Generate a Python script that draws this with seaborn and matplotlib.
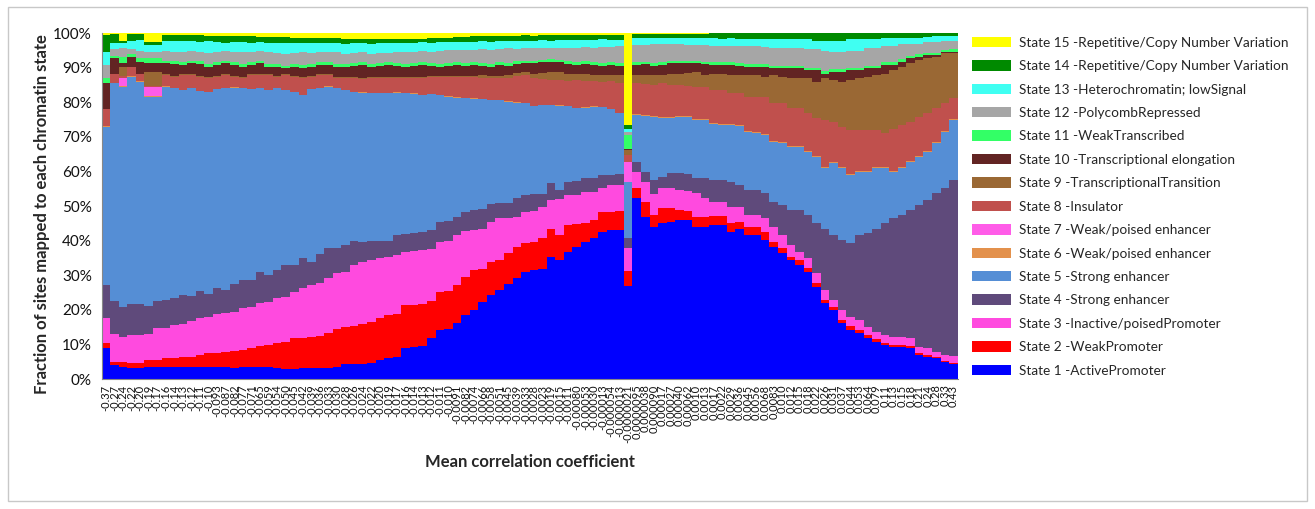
import numpy as np
import pandas as pd
import matplotlib
matplotlib.use("Agg")
import matplotlib.pyplot as plt
from matplotlib.patches import Patch, Rectangle
import seaborn as sns

# Bin labels (mean correlation coefficient of each bin)
corr_labels = [
    "-0.37", "-0.27", "-0.24", "-0.22", "-0.20", "-0.19", "-0.17", "-0.16", "-0.14", "-0.13",
    "-0.12", "-0.11", "-0.10", "-0.093", "-0.087", "-0.082", "-0.077", "-0.071", "-0.065", "-0.059",
    "-0.054", "-0.050", "-0.045", "-0.042", "-0.039", "-0.036", "-0.033", "-0.030", "-0.028", "-0.026",
    "-0.024", "-0.022", "-0.020", "-0.019", "-0.017", "-0.016", "-0.014", "-0.013", "-0.012", "-0.011",
    "-0.010", "-0.0091", "-0.0082", "-0.0074", "-0.0066", "-0.0058", "-0.0051", "-0.0045", "-0.0039", "-0.0033",
    "-0.0028", "-0.0023", "-0.0019", "-0.0015", "-0.0011", "-0.00080", "-0.00053", "-0.00030", "-0.00013", "-0.000054",
    "-0.000013", "-0.0000021", "0.0000095", "0.000038", "0.000090", "0.00017", "0.00027", "0.00040", "0.00062", "0.0010",
    "0.0013", "0.0017", "0.0022", "0.0029", "0.0036", "0.0045", "0.0056", "0.0068", "0.0083", "0.010",
    "0.012", "0.015", "0.018", "0.022", "0.026", "0.031", "0.037", "0.044", "0.053", "0.064",
    "0.079", "0.11", "0.13", "0.15", "0.18", "0.21", "0.24", "0.28", "0.33", "0.43",
]

state_names = [
    "State 1 -ActivePromoter",
    "State 2 -WeakPromoter",
    "State 3 -Inactive/poisedPromoter",
    "State 4 -Strong enhancer",
    "State 5 -Strong enhancer",
    "State 6 -Weak/poised enhancer",
    "State 7 -Weak/poised enhancer",
    "State 8 -Insulator",
    "State 9 -TranscriptionalTransition",
    "State 10 -Transcriptional elongation",
    "State 11 -WeakTranscribed",
    "State 12 -PolycombRepressed",
    "State 13 -Heterochromatin; lowSignal",
    "State 14 -Repetitive/Copy Number Variation",
    "State 15 -Repetitive/Copy Number Variation",
]

state_colors = [
    "#0000FF", "#FF0000", "#FF4ADF", "#5F4A7B", "#558ED5",
    "#E3914C", "#FF5CE8", "#C0504D", "#9A6834", "#622423",
    "#33FF66", "#A6A6A6", "#40FFF2", "#008A00", "#FFFF00",
]

# Upper edge (cumulative %) of each state's band in every bin; State 15 fills to 100 %
edge_s1 = [
    8.9, 4.0, 3.6, 3.3, 3.3, 3.5, 3.6, 3.5, 3.5, 3.6, 3.6, 3.5, 3.4, 3.5, 3.4, 3.3, 3.4, 3.5, 3.6, 3.5,
    3.3, 3.0, 3.0, 3.3, 3.3, 3.2, 3.3, 3.4, 4.2, 4.2, 4.3, 4.5, 5.5, 6.0, 6.5, 9.0, 9.2, 9.5, 11.8, 14.2,
    14.5, 16.1, 18.5, 20.0, 22.4, 24.3, 25.7, 27.6, 29.1, 31.0, 31.5, 31.8, 35.4, 34.4, 36.8, 38.2, 39.7, 40.7, 42.6, 43.1,
    43.0, 26.9, 52.2, 46.9, 44.0, 45.0, 45.5, 46.0, 46.0, 44.0, 44.0, 44.5, 44.5, 42.6, 43.5, 41.6, 41.6, 40.2, 38.2, 36.3,
    34.4, 32.9, 31.0, 26.7, 21.9, 19.9, 16.1, 14.2, 13.2, 11.8, 10.8, 9.8, 9.3, 9.3, 8.9, 6.9, 6.5, 6.0, 5.0, 4.3,
]
edge_s2 = [
    10.3, 5.0, 5.0, 4.5, 4.5, 5.5, 5.5, 6.0, 6.0, 6.5, 6.5, 7.0, 7.4, 7.4, 7.9, 8.0, 8.5, 8.9, 9.5, 9.8,
    10.4, 10.8, 11.8, 11.8, 12.0, 12.5, 13.2, 14.5, 15.0, 15.3, 16.0, 16.5, 17.5, 18.5, 18.8, 21.4, 21.4, 21.8, 22.5, 25.2,
    25.5, 27.2, 29.6, 31.5, 31.8, 33.9, 34.4, 36.3, 38.2, 39.2, 39.5, 40.7, 43.5, 41.6, 44.5, 44.8, 45.0, 46.0, 48.4, 48.4,
    48.5, 31.3, 55.1, 51.3, 47.5, 49.3, 49.3, 48.9, 48.5, 46.9, 46.9, 47.2, 47.2, 45.0, 45.5, 43.8, 43.8, 42.5, 39.7, 37.8,
    35.4, 34.3, 32.0, 27.7, 22.9, 20.9, 17.1, 15.2, 14.1, 12.7, 11.6, 10.4, 9.8, 9.8, 9.4, 7.4, 6.9, 6.5, 5.3, 4.6,
]
edge_s3 = [
    17.5, 12.9, 12.2, 12.7, 12.7, 12.9, 14.6, 14.8, 15.6, 16.0, 16.8, 17.5, 18.0, 18.7, 19.0, 19.5, 20.4, 20.9, 21.9, 22.4,
    23.3, 23.8, 25.2, 26.2, 27.2, 27.7, 29.1, 30.5, 31.0, 32.9, 33.9, 34.4, 34.9, 35.4, 35.8, 36.8, 37.0, 37.2, 37.5, 39.7,
    39.9, 41.6, 42.8, 43.0, 43.3, 45.5, 46.4, 46.4, 46.9, 48.4, 48.6, 49.8, 51.7, 51.9, 53.2, 53.2, 54.1, 54.1, 55.1, 56.1,
    56.1, 38.0, 59.9, 57.0, 53.5, 55.1, 55.1, 54.5, 54.3, 53.7, 52.2, 51.3, 51.3, 49.8, 49.8, 47.4, 47.4, 46.4, 44.0, 41.6,
    38.7, 36.8, 34.9, 30.5, 25.7, 22.8, 19.9, 18.0, 17.1, 15.1, 13.7, 12.7, 12.2, 12.2, 11.8, 9.3, 8.9, 7.9, 6.9, 6.6,
]
edge_s4 = [
    27.2, 22.5, 20.9, 21.6, 21.6, 21.2, 22.5, 22.8, 23.5, 24.3, 24.0, 25.4, 24.5, 26.4, 25.8, 27.6, 28.6, 28.6, 31.0, 30.0,
    31.5, 32.9, 32.9, 35.1, 33.8, 36.0, 37.8, 37.8, 38.7, 39.9, 39.7, 39.9, 39.9, 39.9, 41.5, 42.0, 42.2, 42.5, 43.0, 45.5,
    45.8, 46.9, 48.4, 48.8, 49.0, 50.5, 50.8, 51.0, 52.2, 53.2, 53.5, 53.5, 56.6, 54.6, 57.0, 57.2, 58.0, 58.2, 59.0, 59.0,
    59.2, 40.9, 62.8, 59.9, 57.5, 58.5, 59.4, 59.4, 59.2, 58.0, 58.0, 57.5, 57.5, 57.0, 56.1, 54.6, 54.6, 53.7, 51.3, 50.3,
    48.8, 48.8, 47.4, 45.0, 43.5, 41.6, 40.2, 39.2, 41.6, 42.1, 43.5, 45.0, 46.4, 47.4, 48.8, 50.3, 51.7, 53.7, 55.1, 57.5,
]
edge_s5 = [
    72.9, 85.5, 84.5, 87.4, 85.9, 81.6, 81.6, 84.5, 84.0, 83.5, 84.0, 83.2, 83.0, 83.7, 84.0, 84.2, 84.0, 83.7, 84.0, 83.5,
    84.0, 83.5, 83.0, 82.1, 83.7, 84.0, 84.5, 84.0, 83.5, 83.0, 82.8, 82.6, 82.6, 82.6, 82.8, 82.6, 82.5, 82.1, 82.3, 82.0,
    81.6, 81.3, 81.1, 81.0, 80.8, 80.6, 80.6, 80.2, 79.9, 79.7, 78.8, 79.2, 79.2, 79.0, 78.8, 78.2, 78.4, 78.7, 78.5, 78.0,
    76.8, 56.9, 76.3, 76.0, 75.8, 75.3, 75.5, 75.8, 75.8, 74.9, 74.9, 73.6, 73.4, 73.4, 73.0, 71.5, 71.0, 70.5, 68.5, 68.1,
    67.1, 67.1, 65.5, 64.3, 60.9, 62.3, 60.9, 59.0, 59.9, 59.9, 60.9, 60.9, 59.9, 60.9, 62.8, 64.3, 65.7, 68.1, 71.5, 74.9,
]
edge_s6 = [
    73.0, 85.6, 84.6, 87.5, 86.0, 81.7, 81.7, 84.6, 84.1, 83.6, 84.1, 83.3, 83.1, 83.8, 84.1, 84.3, 84.1, 83.8, 84.1, 83.6,
    84.1, 83.6, 83.1, 82.2, 83.8, 84.1, 84.6, 84.1, 83.6, 83.1, 82.9, 82.7, 82.7, 82.7, 82.9, 82.7, 82.6, 82.2, 82.4, 82.1,
    81.7, 81.4, 81.2, 81.1, 80.9, 80.7, 80.7, 80.3, 80.0, 79.8, 78.9, 79.3, 79.3, 79.1, 78.9, 78.3, 78.5, 78.8, 78.6, 78.1,
    76.9, 56.9, 76.6, 76.3, 76.1, 75.6, 75.8, 76.1, 76.1, 75.2, 75.2, 73.9, 73.7, 73.7, 73.3, 71.8, 71.3, 70.8, 68.8, 68.4,
    67.4, 67.4, 65.8, 64.6, 61.2, 62.6, 61.2, 59.3, 60.2, 60.2, 61.2, 61.2, 60.2, 61.2, 63.1, 64.6, 66.0, 68.4, 71.8, 75.2,
]
edge_s7 = [
    73.0, 85.6, 86.9, 87.5, 86.0, 84.5, 84.5, 84.6, 84.1, 83.6, 84.1, 83.3, 83.1, 83.8, 84.1, 84.3, 84.1, 83.8, 84.1, 83.6,
    84.1, 83.6, 83.1, 82.2, 83.8, 84.1, 84.6, 84.1, 83.6, 83.1, 82.9, 82.7, 82.7, 82.7, 82.9, 82.7, 82.6, 82.2, 82.4, 82.1,
    81.7, 81.4, 81.2, 81.1, 80.9, 80.7, 80.7, 80.3, 80.0, 79.8, 78.9, 79.3, 79.3, 79.1, 78.9, 78.3, 78.5, 78.8, 78.6, 78.1,
    76.9, 62.7, 76.6, 76.3, 76.1, 75.6, 75.8, 76.1, 76.1, 75.2, 75.2, 73.9, 73.7, 73.7, 73.3, 71.8, 71.3, 70.8, 68.8, 68.4,
    67.4, 67.4, 65.8, 64.6, 61.2, 62.6, 61.2, 59.3, 60.2, 60.2, 61.2, 61.2, 60.2, 61.2, 63.1, 64.6, 66.0, 68.4, 71.8, 75.2,
]
edge_s8 = [
    78.0, 88.3, 87.5, 90.3, 88.3, 84.8, 84.8, 87.9, 87.4, 87.9, 87.9, 87.4, 87.1, 87.4, 87.9, 87.4, 86.9, 87.9, 87.9, 87.9,
    87.4, 87.9, 87.4, 86.9, 87.4, 87.9, 87.9, 87.1, 86.9, 86.9, 86.7, 86.9, 86.9, 86.9, 87.0, 86.9, 87.0, 87.1, 87.2, 87.2,
    87.4, 87.4, 87.4, 87.3, 87.0, 86.9, 86.9, 87.1, 87.6, 87.9, 86.9, 86.6, 86.4, 86.4, 86.0, 86.4, 86.2, 86.0, 85.8, 86.0,
    85.5, 64.7, 85.5, 85.3, 85.0, 85.5, 85.0, 85.0, 84.8, 84.5, 84.5, 83.5, 83.5, 82.6, 82.6, 81.6, 81.6, 81.6, 79.7, 79.7,
    78.2, 78.2, 76.8, 75.3, 74.9, 74.4, 72.9, 72.0, 72.0, 72.0, 72.0, 71.0, 72.4, 73.4, 74.4, 75.8, 76.8, 78.2, 79.7, 81.1,
]
edge_s9 = [
    78.0, 88.3, 90.3, 90.3, 88.3, 88.8, 88.8, 88.2, 87.7, 88.2, 88.2, 87.7, 87.4, 87.7, 88.2, 87.7, 87.2, 88.2, 88.2, 88.2,
    87.7, 88.2, 87.7, 87.2, 87.7, 88.2, 88.2, 87.4, 87.2, 87.2, 87.0, 87.2, 87.2, 87.2, 87.3, 87.2, 87.3, 87.4, 87.5, 87.5,
    87.7, 87.7, 87.7, 87.6, 87.8, 87.7, 87.7, 87.9, 88.4, 88.7, 88.3, 88.5, 88.8, 88.8, 88.3, 88.3, 88.3, 88.0, 88.0, 88.0,
    87.9, 66.1, 87.9, 87.9, 87.9, 87.9, 88.3, 88.3, 88.5, 88.8, 87.9, 88.3, 88.3, 87.9, 87.9, 87.9, 87.9, 87.4, 87.9, 87.4,
    86.9, 86.9, 86.9, 85.9, 86.9, 86.4, 85.9, 86.4, 86.9, 87.4, 87.9, 88.3, 89.3, 90.3, 91.2, 92.2, 92.7, 93.2, 94.1, 94.1,
]
edge_s10 = [
    85.5, 92.7, 91.2, 93.2, 91.7, 91.2, 91.2, 91.2, 91.0, 90.8, 91.2, 91.0, 90.3, 90.8, 91.2, 90.8, 90.3, 90.8, 91.2, 90.3,
    90.3, 89.8, 90.3, 90.0, 90.3, 90.8, 90.8, 90.3, 90.3, 90.6, 90.8, 90.3, 90.5, 90.8, 90.6, 90.3, 90.5, 90.8, 90.5, 90.3,
    90.6, 90.8, 90.5, 90.8, 90.6, 90.3, 90.8, 90.6, 91.0, 91.2, 91.2, 91.5, 91.7, 91.5, 91.0, 90.8, 91.0, 90.8, 90.6, 90.8,
    90.6, 66.6, 90.8, 91.0, 90.6, 90.8, 91.2, 91.2, 91.2, 91.2, 91.0, 90.8, 90.8, 90.8, 90.6, 90.3, 90.3, 90.3, 89.8, 89.8,
    89.8, 89.8, 89.3, 89.3, 88.3, 88.8, 88.8, 89.3, 89.3, 89.8, 89.8, 90.8, 90.8, 91.7, 92.7, 93.2, 93.6, 93.6, 94.4, 94.6,
]
edge_s11 = [
    86.9, 93.4, 93.2, 94.0, 92.7, 92.7, 92.7, 92.0, 91.8, 91.6, 92.0, 91.8, 91.1, 91.6, 92.0, 91.6, 91.1, 91.6, 92.0, 91.1,
    91.1, 90.6, 91.1, 90.8, 91.1, 91.6, 91.6, 91.1, 91.1, 91.4, 91.6, 91.1, 91.3, 91.6, 91.4, 91.1, 91.3, 91.6, 91.3, 91.1,
    91.4, 91.6, 91.3, 91.6, 91.4, 91.1, 91.6, 91.4, 91.8, 92.0, 92.0, 92.3, 92.5, 92.3, 91.8, 91.6, 91.8, 91.6, 91.4, 91.6,
    91.4, 70.5, 91.5, 91.7, 91.3, 91.5, 91.9, 91.9, 91.9, 91.9, 91.7, 91.5, 91.5, 91.5, 91.3, 91.0, 91.0, 91.0, 90.5, 90.5,
    90.5, 90.5, 90.0, 90.0, 89.0, 89.5, 89.5, 90.0, 90.0, 90.5, 90.5, 91.5, 91.5, 92.4, 93.4, 93.9, 94.3, 94.3, 95.1, 95.3,
]
edge_s12 = [
    90.8, 95.4, 95.6, 95.4, 94.8, 94.6, 94.6, 94.8, 94.6, 94.4, 94.8, 94.6, 94.2, 94.4, 94.8, 94.6, 94.4, 94.6, 94.8, 94.4,
    94.2, 94.0, 94.2, 94.4, 94.2, 94.4, 94.6, 94.4, 94.0, 94.2, 94.4, 94.0, 94.2, 94.2, 94.4, 94.4, 94.6, 94.8, 94.6, 94.8,
    95.0, 95.2, 95.0, 95.2, 95.4, 95.2, 95.4, 95.6, 95.4, 95.6, 95.8, 95.6, 95.8, 95.8, 95.6, 95.8, 96.0, 95.8, 96.0, 96.0,
    96.2, 71.4, 96.5, 96.6, 96.8, 96.8, 96.8, 96.8, 96.6, 96.6, 96.5, 96.3, 96.3, 96.3, 96.3, 96.3, 96.3, 96.0, 95.8, 95.8,
    95.8, 95.6, 95.4, 95.4, 94.9, 94.4, 94.4, 94.9, 94.9, 95.8, 95.8, 96.3, 96.3, 96.8, 96.8, 96.8, 97.3, 97.3, 97.8, 97.8,
]
edge_s13 = [
    94.4, 97.0, 97.0, 97.8, 98.0, 96.5, 96.5, 97.8, 97.6, 97.8, 97.6, 97.4, 97.6, 97.4, 97.2, 97.4, 97.3, 97.2, 97.4, 97.2,
    97.0, 97.2, 97.0, 97.1, 97.0, 97.2, 97.0, 97.1, 96.9, 97.0, 97.0, 96.8, 97.0, 97.1, 97.2, 97.2, 97.1, 97.3, 97.2, 97.4,
    97.3, 97.5, 97.4, 97.5, 97.6, 97.5, 97.7, 97.6, 97.8, 97.7, 97.8, 97.9, 97.8, 98.0, 97.9, 98.0, 98.1, 98.0, 98.2, 98.1,
    98.0, 72.4, 98.6, 98.6, 98.5, 98.5, 98.6, 98.5, 98.5, 98.6, 98.5, 98.5, 98.4, 98.5, 98.4, 98.4, 98.3, 98.4, 98.3, 98.2,
    98.3, 98.2, 98.2, 97.7, 97.7, 97.8, 97.7, 98.2, 98.2, 98.2, 98.2, 98.5, 98.5, 98.5, 98.5, 98.5, 98.9, 99.0, 99.0, 99.0,
]
edge_s14 = [
    99.4, 99.6, 97.6, 99.7, 99.6, 97.3, 97.3, 99.5, 99.4, 99.4, 99.3, 99.3, 99.2, 99.2, 99.1, 99.1, 99.0, 99.0, 98.9, 98.9,
    98.8, 98.8, 98.7, 98.7, 98.6, 98.7, 98.6, 98.6, 98.4, 98.4, 98.3, 98.3, 98.4, 98.3, 98.3, 98.3, 98.4, 98.4, 98.5, 98.6,
    98.6, 98.8, 98.9, 99.0, 99.0, 99.1, 99.1, 99.2, 99.2, 99.3, 99.2, 99.3, 99.3, 99.3, 99.4, 99.3, 99.4, 99.4, 99.4, 99.4,
    99.5, 73.4, 99.7, 99.7, 99.7, 99.7, 99.7, 99.8, 99.8, 99.8, 99.8, 99.9, 100.0, 100.0, 100.0, 100.0, 100.0, 100.0, 100.0, 100.0,
    100.0, 100.0, 100.0, 100.0, 100.0, 100.0, 100.0, 100.0, 100.0, 100.0, 100.0, 100.0, 100.0, 100.0, 100.0, 100.0, 100.0, 100.0, 100.0, 100.0,
]

edges = np.vstack([
    np.zeros(len(corr_labels)),
    edge_s1, edge_s2, edge_s3, edge_s4, edge_s5, edge_s6, edge_s7,
    edge_s8, edge_s9, edge_s10, edge_s11, edge_s12, edge_s13, edge_s14,
    np.full(len(corr_labels), 100.0),
])
shares = np.clip(np.diff(edges, axis=0), 0, None)

n_bins = len(corr_labels)
df = pd.DataFrame({
    "bin": np.tile(np.arange(n_bins), len(state_names)),
    "state": np.repeat(state_names, n_bins),
    "pct": shares.ravel(),
})

sns.set_theme(style="white")
plt.rcParams["font.family"] = ["Lato", "DejaVu Sans"]

fig = plt.figure(figsize=(13.15, 5.09), dpi=100)
ax = fig.add_axes([0.0773, 0.2554, 0.6510, 0.6797])

palette = dict(zip(state_names, state_colors))
# seaborn stacks the last hue level at the bottom, so list State 15 first
sns.histplot(
    data=df, x="bin", weights="pct", hue="state",
    hue_order=state_names[::-1], palette=palette,
    multiple="stack", discrete=True, shrink=1.0,
    alpha=1.0, linewidth=0, antialiased=False,
    legend=False, ax=ax,
)

ax.set_xlim(-0.5, n_bins - 0.5)
ax.set_ylim(0, 100)
ax.set_xlabel("")
ax.set_ylabel("")

ax.set_yticks(np.arange(0, 101, 10))
ax.set_yticklabels([f"{v}%" for v in range(0, 101, 10)], fontsize=11, color="#111111")
ax.set_xticks(np.arange(n_bins))
ax.set_xticklabels(corr_labels, rotation=90, fontsize=8, color="#111111")
ax.set_xticks(np.arange(n_bins + 1) - 0.5, minor=True)
ax.tick_params(axis="x", which="major", length=0, pad=4)
ax.tick_params(axis="x", which="minor", length=4, width=0.8, color="#888888", direction="out")
ax.tick_params(axis="y", which="major", length=4, width=0.8, color="#888888", direction="out", pad=3)

for side in ("top", "right"):
    ax.spines[side].set_visible(False)
for side in ("left", "bottom"):
    ax.spines[side].set_color("#888888")
    ax.spines[side].set_linewidth(0.8)

fig.text(0.032, 0.58, "Fraction of sites mapped to each chromatin state",
         rotation=90, ha="center", va="center", fontsize=12, fontweight="bold")
fig.text(0.403, 0.092, "Mean correlation coefficient",
         ha="center", va="center", fontsize=12, fontweight="bold")

handles = [Patch(facecolor=c, edgecolor="none") for c in state_colors[::-1]]
fig.legend(handles, state_names[::-1], loc="upper left",
           bbox_to_anchor=(0.739, 0.928), frameon=False, fontsize=9.8,
           handlelength=2.85, handleheight=0.8, handletextpad=0.6,
           labelspacing=0.84, borderpad=0, borderaxespad=0)

fig.patches.append(Rectangle((0.006, 0.016), 0.988, 0.97, transform=fig.transFigure,
                             fill=False, edgecolor="#C8C8C8", linewidth=1.0))

fig.savefig("out.png", dpi=100)
